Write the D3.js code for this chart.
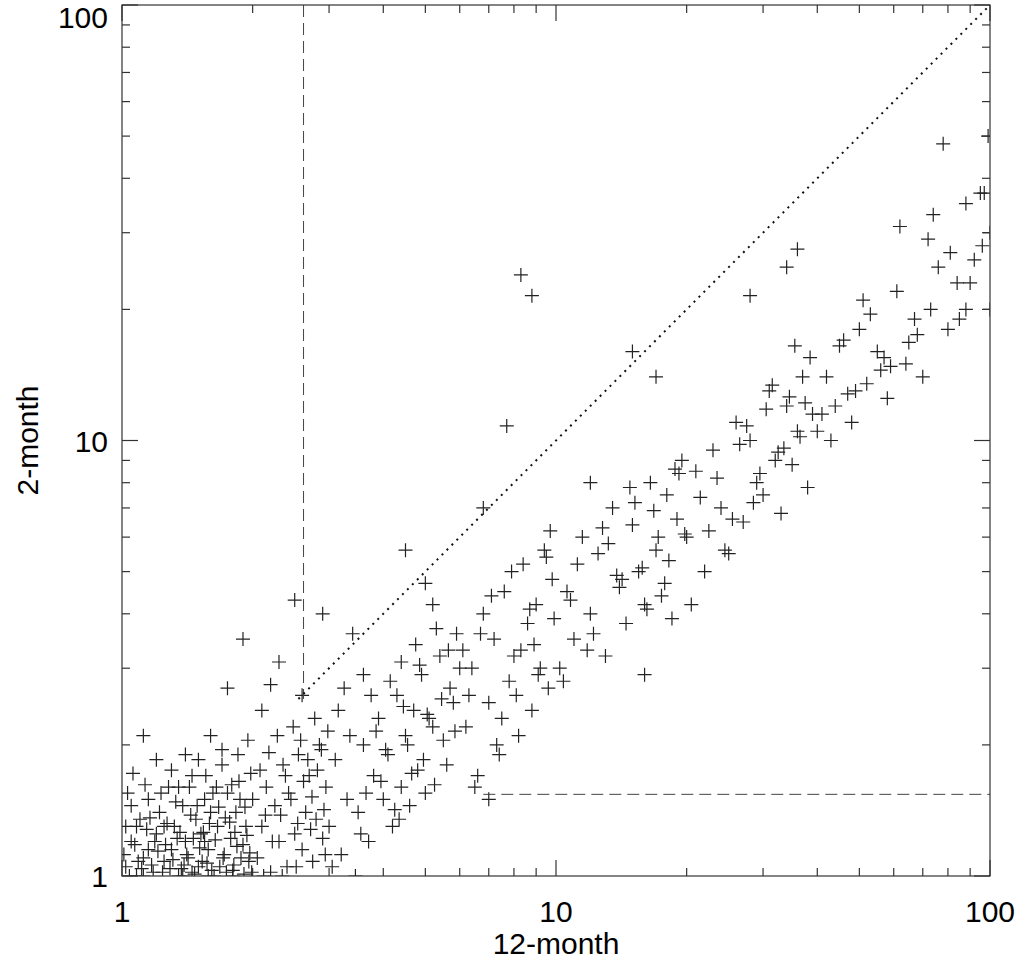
<!DOCTYPE html>
<html><head><meta charset="utf-8">
<script src="https://cdn.jsdelivr.net/npm/d3@7"></script>
<style>body{margin:0;background:#fff}svg{font-family:"Liberation Sans",Arial,sans-serif}</style>
</head><body><div id="chart"></div>
<script>
// [12-month, 2-month] pairs, grouped by range of 12-month
var band1to2 = [
[1.02,1.05],[1.05,1.2],[1.08,1.0],[1.1,1.35],[1.12,1.1],[1.15,1.5],[1.18,1.02],[1.2,1.25],[1.22,1.4],[1.25,1.08],
[1.28,1.6],[1.3,1.15],[1.32,1.3],[1.35,1.0],[1.38,1.45],[1.4,1.2],[1.42,1.1],[1.45,1.7],[1.48,1.35],[1.5,1.05],
[1.52,1.25],[1.55,1.5],[1.58,1.15],[1.6,1.4],[1.63,1.0],[1.66,1.3],[1.7,1.8],[1.72,1.12],[1.75,1.55],[1.78,1.22],
[1.8,1.03],[1.83,1.4],[1.86,1.65],[1.9,1.18],[1.93,1.3],[1.96,1.08],[2.0,1.5],[1.03,1.55],[1.06,1.72],[1.12,2.1],
[1.2,1.85],[1.4,1.9],[1.6,2.1],[1.75,2.7],[1.9,3.5],[1.08,1.3],[1.15,1.15],[1.25,1.3],[1.35,1.6],[1.45,1.02],
[1.55,1.2],[1.65,1.6],[1.85,1.9],[1.01,1.12],[1.04,1.0],[1.07,1.18],[1.11,1.04],[1.14,1.28],[1.17,1.06],[1.21,1.14],
[1.24,1.02],[1.27,1.32],[1.31,1.09],[1.34,1.22],[1.37,1.04],[1.41,1.12],[1.44,1.38],[1.47,1.01],[1.51,1.16],[1.54,1.26],
[1.57,1.07],[1.61,1.03],[1.64,1.21],[1.67,1.44],[1.71,1.1],[1.74,1.02],[1.77,1.33],[1.81,1.06],[1.84,1.17],[1.87,1.5],
[1.91,1.01],[1.94,1.24],[1.97,1.13],[1.02,1.3],[1.05,1.45],[1.09,1.08],[1.13,1.62],[1.16,1.36],[1.19,1.2],[1.23,1.55],
[1.26,1.18],[1.29,1.04],[1.33,1.48],[1.36,1.26],[1.39,1.06],[1.43,1.6],[1.46,1.22],[1.49,1.45],[1.53,1.08],[1.56,1.7],
[1.59,1.32],[1.62,1.55],[1.68,1.05],[1.73,1.36],[1.79,1.62],[1.82,1.26],[1.88,1.1],[1.92,1.44],[1.98,1.72],[1.3,1.75],
[1.5,1.85],[1.7,1.95],[1.95,2.05],[1.12,1.0],[1.38,1.0],[1.58,1.0],[1.8,1.0],[1.99,1.02]
];
var band2to3 = [
[2.05,1.1],[2.1,1.3],[2.15,1.6],[2.2,1.02],[2.25,1.45],[2.3,1.2],[2.35,1.8],[2.4,1.05],[2.45,1.5],[2.5,1.25],
[2.55,1.9],[2.6,1.15],[2.65,1.4],[2.7,1.7],[2.75,1.08],[2.8,1.35],[2.85,2.0],[2.9,1.22],[2.95,1.6],[3.0,1.3],
[2.1,2.4],[2.2,2.75],[2.3,3.1],[2.5,4.3],[2.6,2.6],[2.9,4.0],[2.12,1.0],[2.22,1.2],[2.32,1.38],[2.42,1.55],
[2.52,1.05],[2.62,1.65],[2.72,1.28],[2.82,1.75],[2.92,1.42],[2.08,1.75],[2.18,1.92],[2.28,2.1],[2.38,1.7],[2.48,2.2],
[2.58,2.05],[2.68,1.85],[2.78,2.3],[2.88,1.95],[2.98,2.15],[2.14,1.38],[2.34,1.0],[2.54,1.32],[2.74,1.52],[2.94,1.12]
];
var band3to6 = [
[3.1,1.85],[3.2,1.12],[3.3,1.5],[3.4,3.6],[3.5,1.4],[3.6,2.0],[3.7,1.2],[3.8,1.7],[3.9,2.3],[4.0,1.5],
[4.1,1.9],[4.2,1.3],[4.3,2.6],[4.4,1.6],[4.5,2.1],[4.6,1.45],[4.7,2.4],[4.8,1.75],[4.9,2.9],[5.0,1.55],
[5.2,2.2],[5.4,3.2],[5.6,1.8],[5.8,2.5],[6.0,3.0],[3.55,1.25],[3.75,2.6],[3.95,1.65],[4.15,2.8],[4.35,1.35],
[4.55,2.0],[4.75,3.4],[4.95,1.85],[5.1,2.3],[5.3,3.7],[5.5,2.05],[5.7,2.7],[5.9,3.6],[4.5,5.6],[5.0,4.7],
[3.65,1.55],[3.85,2.15],[4.05,1.95],[4.25,1.42],[4.45,2.45],[4.65,1.72],[4.85,3.05],[5.05,2.35],[5.25,1.62],[5.45,2.55],
[5.65,3.3],[5.85,2.15],[3.15,2.4],[3.35,2.1],[3.45,1.0],[3.25,2.7],[3.05,1.05],[3.6,2.9],[4.4,3.1],[5.2,4.2]
];
var band6to10 = [
[6.2,2.2],[6.4,3.0],[6.6,1.7],[6.8,4.0],[7.0,2.5],[7.2,3.5],[7.4,1.9],[7.6,4.5],[7.8,2.8],[8.0,3.2],
[8.2,2.1],[8.4,5.2],[8.6,3.8],[8.8,2.4],[9.0,4.2],[9.2,3.0],[9.4,5.6],[9.6,2.7],[9.8,4.8],[6.3,2.6],
[6.7,3.6],[7.1,4.4],[7.5,2.3],[7.9,5.0],[8.3,3.3],[8.7,4.1],[9.1,2.9],[9.5,5.4],[9.9,3.9],[6.8,7.0],
[7.7,10.8],[8.3,24],[8.8,21.5],[6.5,1.6],[7.3,2.0],[8.1,2.6],[8.9,3.4],[9.7,6.2],[6.1,3.3],[7.0,1.5]
];
var band10to20 = [
[10.2,3.0],[10.6,4.5],[11,3.5],[11.5,6.0],[12,4.0],[12.5,5.5],[13,3.2],[13.5,7.0],[14,4.6],[14.5,3.8],
[15,6.4],[15.5,5.0],[16,4.2],[16.5,8.0],[17,5.6],[17.5,4.4],[18,7.5],[18.5,3.9],[19,6.6],[19.5,9.0],
[10.4,2.8],[11.2,5.2],[12.2,3.6],[13.2,5.8],[14.2,4.8],[15.2,7.2],[16.2,4.1],[17.2,6.0],[18.2,5.3],[19.2,8.4],
[15,16],[17,14],[10.8,4.3],[11.8,3.3],[12.8,6.3],[13.8,4.9],[14.8,7.8],[15.8,5.1],[16.8,6.9],[17.8,4.7],
[18.8,8.6],[19.8,6.1],[16,2.9],[12,8.0]
];
var band20to40 = [
[20,6.0],[21,8.5],[22,5.0],[23,9.5],[24,7.0],[25,5.5],[26,11],[27,6.5],[28,10],[29,8.0],
[30,7.5],[31,13],[32,9.0],[33,6.8],[34,12],[35,8.8],[36,10.5],[37,14],[38,7.8],[39,11.5],
[20.5,4.2],[22.5,6.2],[24.5,5.6],[26.5,9.8],[28.5,7.2],[30.5,11.8],[32.5,9.4],[34.5,12.6],[36.5,10.2],[38.5,15.5],
[21.5,7.4],[23.5,8.2],[25.5,6.6],[27.5,10.8],[29.5,8.4],[31.5,13.4],[33.5,9.6],[35.5,16.5],[37.5,12.2],[34,25],
[28,21.5],[36,27.5]
];
var band40to100 = [
[40,10.5],[42,14],[44,12],[46,17],[48,11],[50,18],[52,13.5],[55,16],[58,12.5],[61,22],
[64,15],[67,19],[70,14],[73,20],[76,25],[80,18],[84,23],[88,20],[92,26],[96,28],
[100,30],[41,11.5],[45,16.5],[49,13],[53,19.5],[57,15.5],[62,31],[68,17.5],[74,33],[81,27],
[88,35],[95,37],[56,14.5],[72,29],[85,19],[99,50],[43,10],[47,12.8],[51,21],[59,14.8],
[65,16.8],[78,48],[90,23],[100,20],[97,37]
];
var xTicks = [1, 10, 100], yTicks = [1, 10, 100];
var xCut = 2.62, yCut = 1.54;

var W = 1020, H = 959, L = 122, R = 990, T = 5, B = 876;
var svg = d3.select("#chart").append("svg").attr("width", W).attr("height", H);
var x = d3.scaleLog().domain([1, 100]).range([L, R]);
var y = d3.scaleLog().domain([1, 100]).range([B, T]);

svg.append("defs").append("clipPath").attr("id", "clip")
  .append("rect").attr("x", L).attr("y", T).attr("width", R - L).attr("height", B - T);

var minor = [];
[1, 10].forEach(function(d){ for (var k = 2; k < 10; k++) minor.push(d * k); });

var pts = [].concat(band1to2, band2to3, band3to6, band6to10, band10to20, band20to40, band40to100);
var g = svg.append("g").attr("clip-path", "url(#clip)");
g.selectAll("path.pt").data(pts).enter().append("path")
  .attr("class", "pt")
  .attr("d", function(d){ var px = x(d[0]), py = y(d[1]);
    return "M" + (px - 7) + "," + py + "H" + (px + 7) + "M" + px + "," + (py - 7) + "V" + (py + 7); })
  .attr("stroke", "#222").attr("stroke-width", 1.2).attr("fill", "none");

// reference lines
g.append("path").attr("d", "M" + x(xCut) + "," + T + "V" + y(2.55))
  .attr("stroke", "#444").attr("stroke-dasharray", "12,6").attr("fill", "none");
g.append("path").attr("d", "M" + x(6.8) + "," + y(yCut) + "H" + R)
  .attr("stroke", "#444").attr("stroke-dasharray", "12,6").attr("fill", "none");
g.append("path").attr("d", "M" + x(2.55) + "," + y(2.55) + "L" + x(100) + "," + y(100))
  .attr("stroke", "#111").attr("stroke-width", 2).attr("stroke-dasharray", "2,5").attr("fill", "none");

// frame and ticks
svg.append("rect").attr("x", L).attr("y", T).attr("width", R - L).attr("height", B - T)
  .attr("fill", "none").attr("stroke", "#333").attr("stroke-width", 1.2);
var tk = svg.append("g").attr("stroke", "#333").attr("stroke-width", 1.2);
xTicks.concat(minor).forEach(function(v){
  var len = xTicks.indexOf(v) >= 0 ? 16 : 8;
  tk.append("line").attr("x1", x(v)).attr("x2", x(v)).attr("y1", B).attr("y2", B - len);
  tk.append("line").attr("x1", x(v)).attr("x2", x(v)).attr("y1", T).attr("y2", T + len);
  tk.append("line").attr("y1", y(v)).attr("y2", y(v)).attr("x1", L).attr("x2", L + len);
  tk.append("line").attr("y1", y(v)).attr("y2", y(v)).attr("x1", R).attr("x2", R - len);
});
xTicks.forEach(function(v){
  svg.append("text").attr("x", x(v)).attr("y", 922).attr("text-anchor", "middle")
    .attr("font-size", 30).text(v);
});
yTicks.forEach(function(v){
  svg.append("text").attr("x", 108).attr("y", Math.max(y(v) + 11, 28)).attr("text-anchor", "end")
    .attr("font-size", 30).text(v);
});
svg.append("text").attr("x", x(10)).attr("y", 954).attr("text-anchor", "middle")
  .attr("font-size", 30).text("12-month");
svg.append("text").attr("transform", "translate(38," + y(10) + ") rotate(-90)")
  .attr("text-anchor", "middle").attr("font-size", 30).text("2-month");
</script></body></html>
